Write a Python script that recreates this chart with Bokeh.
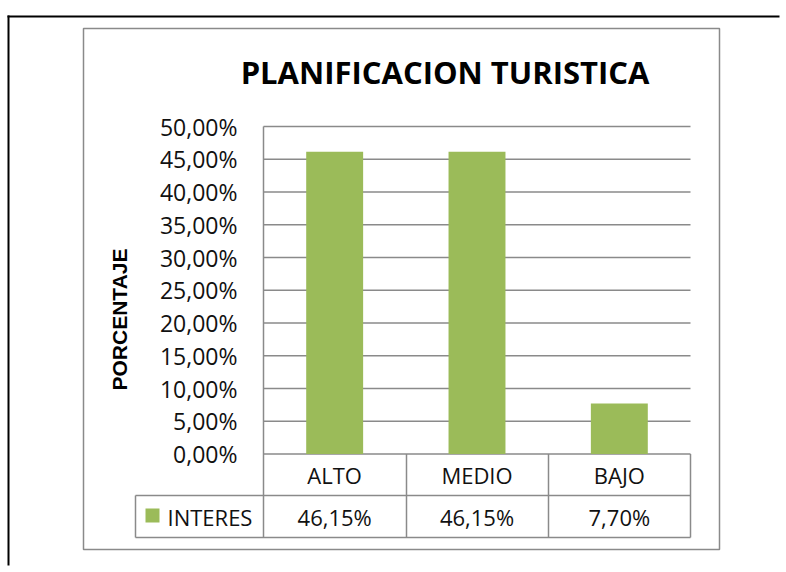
import math
from bokeh.plotting import figure
from bokeh.models import (Range1d, FixedTicker, CustomJSTickFormatter, LinearAxis)
from bokeh.core.properties import value
from bokeh.embed import file_html
from bokeh.resources import INLINE

# ---------------- data ----------------
TITLE = "PLANIFICACION TURISTICA"
Y_LABEL = "PORCENTAJE"
SERIES = "INTERES"
CATEGORIES = ["ALTO", "MEDIO", "BAJO"]
INTERES = [0.4615, 0.4615, 0.0770]
Y_TICKS = [0.0, 0.05, 0.10, 0.15, 0.20, 0.25, 0.30, 0.35, 0.40, 0.45, 0.50]

# ---------------- style / layout ----------------
GREEN = "#9BBB59"
GRAY = "#8a8a8a"
TXT = "#111111"
FONT = "Open Sans"

W, H = 780, 566
PLOT_L, PLOT_R = 263.0, 690.0      # page px of plot area
PLOT_T, PLOT_B = 126.0, 453.5
N = len(CATEGORIES)
XU = (PLOT_R - PLOT_L) / N         # px per category slot
YU = (PLOT_B - PLOT_T) / 0.5       # px per unit of y
XPOS = [i + 0.5 for i in range(N)]

p = figure(width=W, height=H,
           x_range=Range1d(-PLOT_L / XU, (W - PLOT_L) / XU),
           y_range=Range1d(-(H - PLOT_B) / YU, 0.5 + PLOT_T / YU),
           x_axis_location=None, y_axis_location=None,
           output_backend="svg", toolbar_location=None,
           min_border=0, min_border_left=0, min_border_right=0,
           min_border_top=0, min_border_bottom=0)
p.background_fill_color = "white"
p.border_fill_color = "white"
p.outline_line_color = None
p.xgrid.visible = False
p.ygrid.visible = False

# page-pixel helper ranges for the surrounding table and frames
p.extra_x_ranges = {"page": Range1d(0, W)}
p.extra_y_ranges = {"page": Range1d(H, 0)}
PG = dict(x_range_name="page", y_range_name="page")

# y axis drawn at the left edge of the plot area
ax = LinearAxis(fixed_location=0,
                ticker=FixedTicker(ticks=Y_TICKS),
                formatter=CustomJSTickFormatter(code="return (tick*100).toFixed(2).replace('.', ',') + '%';"))
ax.major_label_text_font = FONT
ax.major_label_text_font_size = "23px"
ax.major_label_text_color = TXT
ax.axis_line_color = None
ax.major_tick_line_color = None
ax.minor_tick_line_color = None
ax.major_tick_in = 0
ax.major_tick_out = 0
ax.major_label_standoff = 26
p.add_layout(ax, "left")

# horizontal gridlines over the plot area
p.segment(x0=[0] * len(Y_TICKS), x1=[N] * len(Y_TICKS), y0=Y_TICKS, y1=Y_TICKS,
          line_color=GRAY, line_width=1.5)

# bars
p.vbar(x=XPOS, top=INTERES, bottom=0, width=0.4, fill_color=GREEN, line_color=None)

# data table lines (page px)
p.segment(x0=[263, 406, 548, 690, 135, 135, 135],
          y0=[126, 453.5, 453.5, 453.5, 495, 495, 537],
          x1=[263, 406, 548, 690, 135, 690, 690],
          y1=[537, 537, 537, 537, 537, 495, 537],
          line_color=GRAY, line_width=1.5, **PG)

# chart box
p.quad(left=[83], right=[719], top=[28], bottom=[549], fill_color=None,
       line_color=GRAY, line_width=1.5, **PG)
# outer black frame (top and left edges) as thin filled bars
p.quad(left=[7, 7], right=[W - 1, 9], top=[15, 15], bottom=[17, H - 1],
       fill_color="black", line_color=None, **PG)

# legend key square
p.quad(left=[145], right=[159], top=[508], bottom=[522], fill_color=GREEN, line_color=None, **PG)

# texts
p.text(x=[444.5], y=[71], text=[TITLE], text_font=value(FONT), text_font_style="bold",
       text_font_size="31px", text_color="black", text_align="center", text_baseline="middle", **PG)
p.text(x=[119], y=[319], text=[Y_LABEL], text_font=value("Liberation Sans"), text_font_style="bold",
       text_font_size="21px", text_color="black", text_align="center", text_baseline="middle",
       angle=math.pi / 2, **PG)
p.text(x=[167], y=[516], text=[SERIES], text_font=value(FONT), text_font_size="22px",
       text_color=TXT, text_align="left", text_baseline="middle", **PG)

value_txt = [("%.2f" % (v * 100)).replace(".", ",") + "%" for v in INTERES]
ROW1_Y, ROW2_Y = 474, 516
p.text(x=[PLOT_L + XU * x for x in XPOS], y=[ROW1_Y] * N, text=CATEGORIES, text_font=value(FONT),
       text_font_size="22px", text_color=TXT, text_align="center", text_baseline="middle", **PG)
p.text(x=[PLOT_L + XU * x for x in XPOS], y=[ROW2_Y] * N, text=value_txt, text_font=value(FONT),
       text_font_size="22px", text_color=TXT, text_align="center", text_baseline="middle", **PG)

open("out.html", "w").write(file_html(p, INLINE, title="PLANIFICACION TURISTICA"))
